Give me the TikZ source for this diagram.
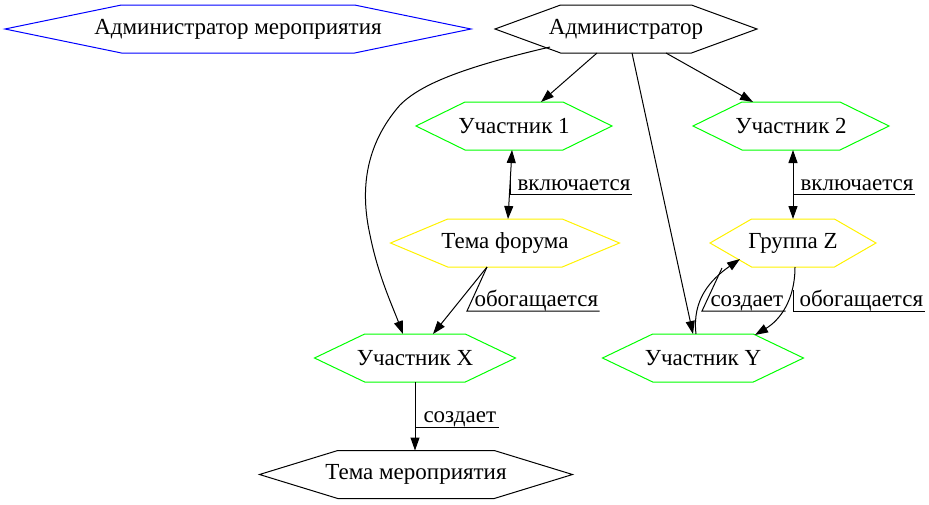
\documentclass[tikz,border=0pt]{standalone}
\usepackage{fontspec}
\setmainfont{Liberation Serif}
\usetikzlibrary{shapes.symbols,arrows.meta}
\newcommand\hxtext[1]{\makebox[0pt]{#1}}
\tikzset{
  hexa/.style n args={3}{signal, signal to=west and east, signal pointer angle=#2,
    draw=#3, text=black, minimum width=#1, minimum height=48pt, inner sep=0pt, outer sep=0pt,
    font=\fontsize{23}{27}\selectfont},
  lbl/.style={anchor=base west, inner sep=0pt, font=\fontsize{23}{27}\selectfont}
}
\begin{document}
\begin{tikzpicture}[x=1pt,y=-1pt,>={Triangle[length=13pt,width=9pt]},line width=1pt]
\useasboundingbox (0,0) rectangle (929,504);
%Вершины графа
\node[hexa={466pt}{23.3}{blue}] (adminev) at (238,29) {\hxtext{Администратор мероприятия}};
\node[hexa={262pt}{40.2}{black}] (admin) at (626,29) {\hxtext{Администратор}};
\node[hexa={196pt}{52.2}{green}] (u1) at (514,126) {\hxtext{Участник 1}};
\node[hexa={196pt}{52.2}{green}] (u2) at (791,126) {\hxtext{Участник 2}};
\node[hexa={229pt}{45.5}{yellow}] (forum) at (505,243) {\hxtext{Тема форума}};
\node[hexa={166pt}{60.0}{yellow}] (group) at (793,243) {\hxtext{Группа Z}};
\node[hexa={201pt}{51.1}{green}] (ux) at (415,358) {\hxtext{Участник X}};
\node[hexa={201pt}{51.1}{green}] (uy) at (703,358) {\hxtext{Участник Y}};
\node[hexa={313pt}{34.1}{black}] (evtopic) at (416,474.5) {\hxtext{Тема мероприятия}};
%Рёбра от администратора
\draw[->] ([xshift=-29pt]admin.south) -- ([xshift=27pt]u1.north);
\draw[->] ([xshift=40pt]admin.south) -- ([xshift=-38pt]u2.north);
\draw[->] ([xshift=6pt]admin.south) -- ([xshift=-10pt]uy.north);
\draw[->] ([xshift=-76pt,yshift=6pt]admin.south) .. controls (460,68) and (420,85) .. (400,105)
  .. controls (365,145) and (360,190) .. (370,235)
  .. controls (378,275) and (392,305) .. ([xshift=-12pt]ux.north);
%Включается
\draw[<->] ([xshift=-2pt]u1.south) -- ([xshift=3pt]forum.north);
\node[lbl] (l1) at (517,190) {включается};
\draw (510.5,175) |- ([xshift=1pt,yshift=-4pt]l1.base east);
\draw[<->] ([xshift=2pt]u2.south) -- (group.north);
\node[lbl] (l2) at (800,190) {включается};
\draw (793,175) |- ([xshift=1pt,yshift=-4pt]l2.base east);
%Обогащается
\draw[->] ([xshift=-18pt]forum.south) -- ([xshift=18pt]ux.north);
\node[lbl] (l3) at (474,306) {обогащается};
\draw ([xshift=-18pt]forum.south) -- (467,311) -- ([xshift=1pt,yshift=-5pt]l3.base east);
\draw[->] ([xshift=2pt]group.south) .. controls (795,300) and (780,320) .. ([xshift=52pt,yshift=-1pt]uy.north);
\node[lbl] (l4) at (799,306) {обогащается};
\draw (793,290) |- ([xshift=1pt,yshift=-5pt]l4.base east);
%Создает
\draw[->] ([xshift=-7pt]uy.north) .. controls (692,300) and (710,280) .. ([xshift=-53pt,yshift=-16pt]group.center);
\node[lbl] (l5) at (710,306) {создает};
\draw (722,268) -- (702,311) -- ([xshift=2pt,yshift=-5pt]l5.base east);
\draw[->] (ux.south) -- (ux.south |- evtopic.north);
\node[lbl] (l6) at (423,422) {создает};
\draw (416,427) -- ([xshift=2pt,yshift=-5pt]l6.base east);
\end{tikzpicture}
\end{document}
